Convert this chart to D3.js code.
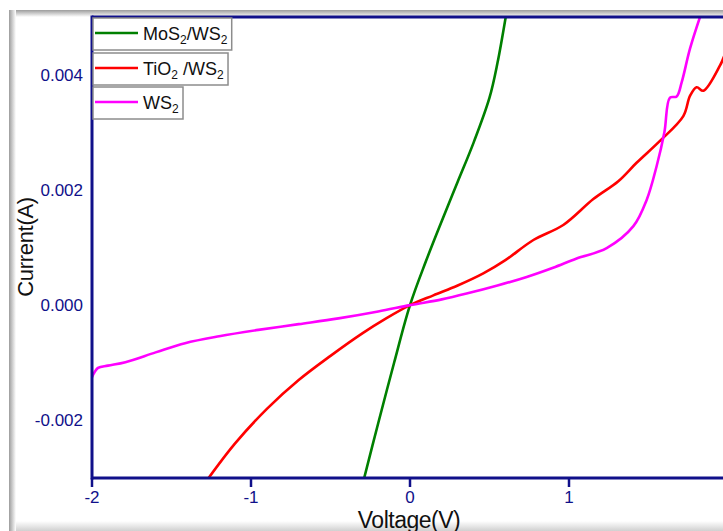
<!DOCTYPE html>
<html lang="en">
<head>
    <meta charset="utf-8">
    <title>I-V curves</title>
    <script src="https://d3js.org/d3.v7.min.js"></script>
    <style>
        body { margin: 0; background: #fff; }
        svg { display: block; font-family: Arial, "Liberation Sans", sans-serif; }
    </style>
</head>
<body>
    <svg width="723" height="531"></svg>

    <script>
        // ---- data (voltage in V, current in mA) ----
        var voltMoS2 = [-0.29, -0.2, -0.1, 0, 0.1, 0.2, 0.3, 0.4, 0.5, 0.55, 0.602];
        var curMoS2  = [-3.02, -2.05, -1.0, 0, 0.76, 1.46, 2.14, 2.82, 3.60, 4.20, 5.0];

        var voltTiO2 = [-1.272, -1.1, -0.9, -0.7, -0.5, -0.3, -0.15, 0, 0.147, 0.3, 0.461, 0.6, 0.776,
                        0.964, 1.153, 1.31, 1.425, 1.572, 1.719, 1.761, 1.803, 1.845, 1.95, 1.98];
        var curTiO2  = [-3.02, -2.40, -1.80, -1.30, -0.88, -0.49, -0.23, 0, 0.17, 0.34, 0.55, 0.78, 1.13,
                        1.39, 1.84, 2.15, 2.47, 2.85, 3.28, 3.63, 3.78, 3.72, 4.16, 4.35];

        var voltWS2 = [-2.0, -1.962, -1.9, -1.79, -1.6, -1.415, -1.2, -0.954, -0.7, -0.45, -0.2, 0, 0.2, 0.356, 0.55,
                       0.734, 0.9, 1.048, 1.237, 1.405, 1.489, 1.551, 1.6, 1.635, 1.677, 1.709, 1.761, 1.83];
        var curWS2  = [-1.25, -1.09, -1.05, -0.99, -0.82, -0.66, -0.54, -0.43, -0.33, -0.23, -0.11, 0, 0.10, 0.20, 0.34,
                       0.49, 0.65, 0.81, 0.99, 1.37, 1.83, 2.41, 3.0, 3.60, 3.62, 3.87, 4.45, 5.05];

        var seriesNames = ["MoS2/WS2", "TiO2 /WS2", "WS2"];
        var seriesColors = ["#008000", "#ff0000", "#ff00ff"];
        var xTicks = [-2, -1, 0, 1];
        var yTicks = [-0.002, 0.000, 0.002, 0.004];

        function zip(v, c) { return v.map(function(d, i) { return { v: d, i: c[i] / 1000 }; }); }
        var series = [zip(voltMoS2, curMoS2), zip(voltTiO2, curTiO2), zip(voltWS2, curWS2)];

        var svg = d3.select("svg");
        var axisColor = "#10108a";

        // plot area
        var plotL = 92, plotR = 728, plotT = 17, plotB = 478;

        var x = d3.scaleLinear().domain([-2, 2]).range([plotL, plotR]);
        var y = d3.scaleLinear().domain([-0.003, 0.005]).range([plotB, plotT]);

        // window frame shading
        var defs = svg.append("defs");
        var gTop = defs.append("linearGradient").attr("id", "gTop").attr("x1", 0).attr("y1", 0).attr("x2", 0).attr("y2", 1);
        gTop.append("stop").attr("offset", 0).attr("stop-color", "#9c9c9c");
        gTop.append("stop").attr("offset", 1).attr("stop-color", "#ffffff");
        var gLeft = defs.append("linearGradient").attr("id", "gLeft").attr("x1", 0).attr("y1", 0).attr("x2", 1).attr("y2", 0);
        gLeft.append("stop").attr("offset", 0).attr("stop-color", "#9c9c9c");
        gLeft.append("stop").attr("offset", 1).attr("stop-color", "#ffffff");
        var gBot = defs.append("linearGradient").attr("id", "gBot").attr("x1", 0).attr("y1", 0).attr("x2", 0).attr("y2", 1);
        gBot.append("stop").attr("offset", 0).attr("stop-color", "#ffffff");
        gBot.append("stop").attr("offset", 1).attr("stop-color", "#d0d0d0");

        svg.append("rect").attr("x", 9).attr("y", 10).attr("width", 714).attr("height", 7).attr("fill", "url(#gTop)");
        svg.append("rect").attr("x", 9).attr("y", 10).attr("width", 7).attr("height", 521).attr("fill", "url(#gLeft)");
        svg.append("rect").attr("x", 16).attr("y", 521).attr("width", 707).attr("height", 10).attr("fill", "url(#gBot)");

        defs.append("clipPath").attr("id", "plotClip")
            .append("rect").attr("x", plotL).attr("y", plotT).attr("width", plotR - plotL).attr("height", plotB - plotT);

        // curves
        var line = d3.line()
            .curve(d3.curveCatmullRom.alpha(0.5))
            .x(function(d) { return x(d.v); })
            .y(function(d) { return y(d.i); });

        svg.append("g")
            .attr("clip-path", "url(#plotClip)")
            .selectAll("path")
            .data(series)
            .enter()
            .append("path")
            .attr("d", line)
            .attr("fill", "none")
            .attr("stroke", function(d, i) { return seriesColors[i]; })
            .attr("stroke-width", 2.6)
            .attr("stroke-linejoin", "round");

        // axes lines
        svg.append("line").attr("x1", plotL).attr("x2", 723).attr("y1", plotB).attr("y2", plotB)
            .attr("stroke", axisColor).attr("stroke-width", 3);
        svg.append("line").attr("x1", plotL).attr("x2", 723).attr("y1", plotT).attr("y2", plotT)
            .attr("stroke", axisColor).attr("stroke-width", 3);
        svg.append("line").attr("x1", plotL).attr("x2", plotL).attr("y1", plotT - 1.5).attr("y2", plotB + 1.5)
            .attr("stroke", axisColor).attr("stroke-width", 3);

        // x ticks + labels
        svg.selectAll(".xt")
            .data(xTicks)
            .enter()
            .append("line")
            .attr("x1", function(d) { return x(d); })
            .attr("x2", function(d) { return x(d); })
            .attr("y1", plotB)
            .attr("y2", plotB + 9)
            .attr("stroke", axisColor)
            .attr("stroke-width", 2.5);

        svg.selectAll(".xl")
            .data(xTicks)
            .enter()
            .append("text")
            .attr("x", function(d) { return x(d); })
            .attr("y", 503)
            .attr("text-anchor", "middle")
            .attr("fill", axisColor)
            .style("font-size", "17px")
            .text(function(d) { return d; });

        // y labels (no visible tick marks), plain hyphen for minus
        svg.selectAll(".yl")
            .data(yTicks)
            .enter()
            .append("text")
            .attr("x", 83)
            .attr("y", function(d) { return y(d) + 6; })
            .attr("text-anchor", "end")
            .attr("fill", axisColor)
            .style("font-size", "17px")
            .text(function(d) { return d3.format(".3f")(d).replace("\u2212", "-"); });

        // axis titles
        svg.append("text")
            .attr("x", 409)
            .attr("y", 528)
            .attr("text-anchor", "middle")
            .style("font-size", "23px")
            .style("letter-spacing", "-0.5px")
            .attr("fill", "#111")
            .text("Voltage(V)");

        svg.append("text")
            .attr("transform", "translate(33,247) rotate(-90)")
            .attr("text-anchor", "middle")
            .style("font-size", "22px")
            .style("letter-spacing", "-0.3px")
            .attr("fill", "#111")
            .text("Current(A)");

        // legend
        var legendY = [18, 53, 87];
        var leg = svg.append("g");
        seriesNames.forEach(function(name, k) {
            var g = leg.append("g");
            var box = g.append("rect")
                .attr("x", 93).attr("y", legendY[k])
                .attr("height", 32)
                .attr("fill", "#fff")
                .attr("stroke", "#8c8c8c")
                .attr("stroke-width", 1.5);
            var ly = legendY[k] + 15;
            g.append("line")
                .attr("x1", 95).attr("x2", 138)
                .attr("y1", ly).attr("y2", ly)
                .attr("stroke", seriesColors[k])
                .attr("stroke-width", 2.6);
            var t = g.append("text")
                .attr("x", 143).attr("y", ly + 6.5)
                .style("font-size", "18px")
                .attr("fill", "#111");
            // split on the digit 2 to make subscripts
            var parts = name.split("2");
            var shift = 0;
            parts.forEach(function(p, j) {
                if (p.length) {
                    t.append("tspan").attr("dy", -shift).text(p);
                    shift = 0;
                }
                if (j < parts.length - 1) {
                    t.append("tspan").attr("dy", 4).style("font-size", "12px").text("2");
                    shift = 4;
                }
            });
            var bb = t.node().getBBox();
            box.attr("width", bb.x + bb.width + 4 - 93);
        });
    </script>
</body>
</html>
